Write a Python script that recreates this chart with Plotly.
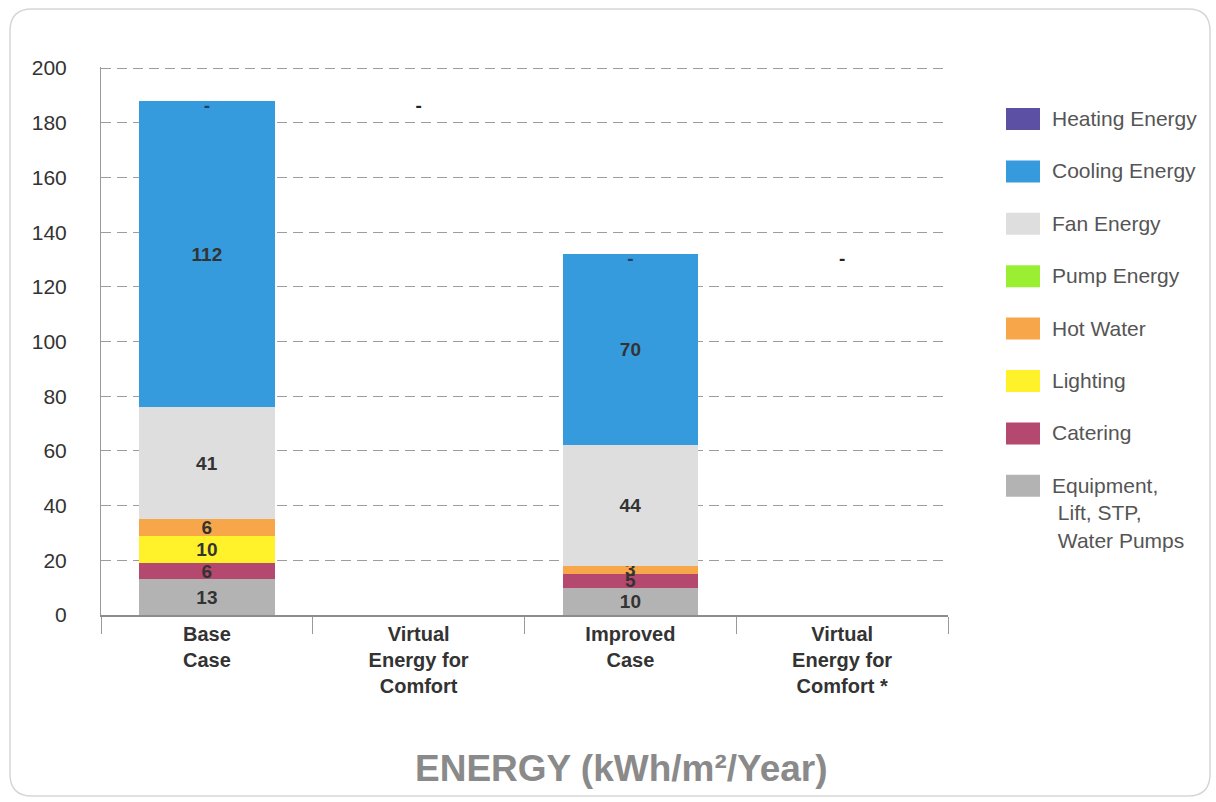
import plotly.graph_objects as go

# ---------------- data ----------------
categories = ["Base<br>Case", "Virtual<br>Energy for<br>Comfort",
              "Improved<br>Case", "Virtual<br>Energy for<br>Comfort *"]

equipment = [13, None, 10, None]
catering = [6, None, 5, None]
lighting = [10, None, 0, None]
hot_water = [6, None, 3, None]
pump_energy = [0, None, 0, None]
fan_energy = [41, None, 44, None]
cooling_energy = [112, None, 70, None]
heating_energy = [0, None, 0, None]

series_names = ["Equipment,<br> Lift, STP,<br> Water Pumps", "Catering", "Lighting",
                "Hot Water", "Pump Energy", "Fan Energy", "Cooling Energy", "Heating Energy"]
series_values = [equipment, catering, lighting, hot_water, pump_energy,
                 fan_energy, cooling_energy, heating_energy]
series_colors = ["#b3b3b3", "#b5486e", "#fff22b", "#f8a64a", "#9bef33",
                 "#dedede", "#369bdc", "#5b50a3"]

y_ticks = [0, 20, 40, 60, 80, 100, 120, 140, 160, 180, 200]

# ---------------- geometry ----------------
W, H = 1216, 802
L, R, T, B = 101, 268, 67, 187
PW, PH = W - L - R, H - T - B
PB = H - B


def fx(px):
    return (px - L) / PW


def fy(py):
    return (PB - py) / PH


FONT = "Arial, Liberation Sans, sans-serif"

fig = go.Figure()

for name, vals, col in zip(series_names, series_values, series_colors):
    texts = [str(v) if v else "" for v in vals]
    fig.add_trace(go.Bar(
        x=categories, y=vals,
        name=name, marker=dict(color=col, line=dict(width=0)),
        text=texts, textposition="inside", insidetextanchor="middle",
        textangle=0, textfont=dict(family=FONT, size=19, color="#333333", weight="bold"),
        showlegend=False, hoverinfo="skip",
    ))

# totals and "-" labels (heating = 0 on top of each case; virtual comfort = 0)
totals = []
for i in range(len(categories)):
    totals.append(sum(v[i] for v in series_values if v[i] is not None))
dash_y = []
last = 0
for i in range(len(categories)):
    if equipment[i] is not None:
        last = totals[i]
    dash_y.append(last - 2.3)
fig.add_trace(go.Scatter(
    x=categories, y=dash_y, mode="text", text=["-"] * len(categories),
    textfont=dict(family=FONT, size=19, color=["#1f3f6a", "#222222", "#1f3f6a", "#222222"],
                  weight="bold"),
    showlegend=False, hoverinfo="skip"))

shapes = []
annotations = []

# outer rounded frame
fl, ft, fr, fb, rad = 10, 9, 1210, 796, 22
path = (f"M {fx(fl+rad)} {fy(ft)} L {fx(fr-rad)} {fy(ft)} Q {fx(fr)} {fy(ft)} {fx(fr)} {fy(ft+rad)} "
        f"L {fx(fr)} {fy(fb-rad)} Q {fx(fr)} {fy(fb)} {fx(fr-rad)} {fy(fb)} "
        f"L {fx(fl+rad)} {fy(fb)} Q {fx(fl)} {fy(fb)} {fx(fl)} {fy(fb-rad)} "
        f"L {fx(fl)} {fy(ft+rad)} Q {fx(fl)} {fy(ft)} {fx(fl+rad)} {fy(ft)} Z")
shapes.append(dict(type="path", xref="paper", yref="paper", path=path,
                   line=dict(color="#d6d6d6", width=1.5), layer="below"))

# custom legend (top to bottom = reverse stacking order)
leg_order = list(range(len(series_names)))[::-1]
for k, idx in enumerate(leg_order):
    cy = 119 + 52.4 * k
    shapes.append(dict(type="rect", xref="paper", yref="paper",
                       x0=fx(1006), x1=fx(1040), y0=fy(cy - 11), y1=fy(cy + 11),
                       fillcolor=series_colors[idx], line=dict(width=0)))
    annotations.append(dict(xref="paper", yref="paper", x=fx(1050), y=fy(cy - 14),
                            xanchor="left", yanchor="top", align="left",
                            text=series_names[idx], showarrow=False,
                            font=dict(family=FONT, size=21, color="#555555")))

# chart title
annotations.append(dict(xref="paper", yref="paper", x=fx(621), y=fy(768),
                        xanchor="center", yanchor="middle",
                        text="ENERGY (kWh/m²/Year)", showarrow=False,
                        font=dict(family=FONT, size=37, color="#8a8a8a", weight="bold")))

fig.update_layout(
    width=W, height=H,
    margin=dict(l=L, r=R, t=T, b=B, pad=0),
    barmode="stack", bargap=0.36,
    paper_bgcolor="white", plot_bgcolor="white",
    showlegend=False,
    uniformtext=dict(minsize=19, mode="show"),
    shapes=shapes, annotations=annotations,
    xaxis=dict(type="category", tickson="boundaries", ticks="outside", ticklen=17,
               tickcolor="#9a9a9a", tickwidth=1, showline=True, linecolor="#8c8c8c",
               linewidth=2, showgrid=False,
               tickfont=dict(family=FONT, size=20, color="#333333", weight="bold")),
    yaxis=dict(range=[0, 200.4], tickvals=y_ticks, showgrid=True, gridcolor="#9c9c9c",
               griddash="10px,6px", gridwidth=1, zeroline=False, showline=True,
               linecolor="#9a9a9a", linewidth=1, ticks="", ticklabelstandoff=29,
               tickfont=dict(family=FONT, size=21, color="#333333")),
)

fig.write_html("out.html")
